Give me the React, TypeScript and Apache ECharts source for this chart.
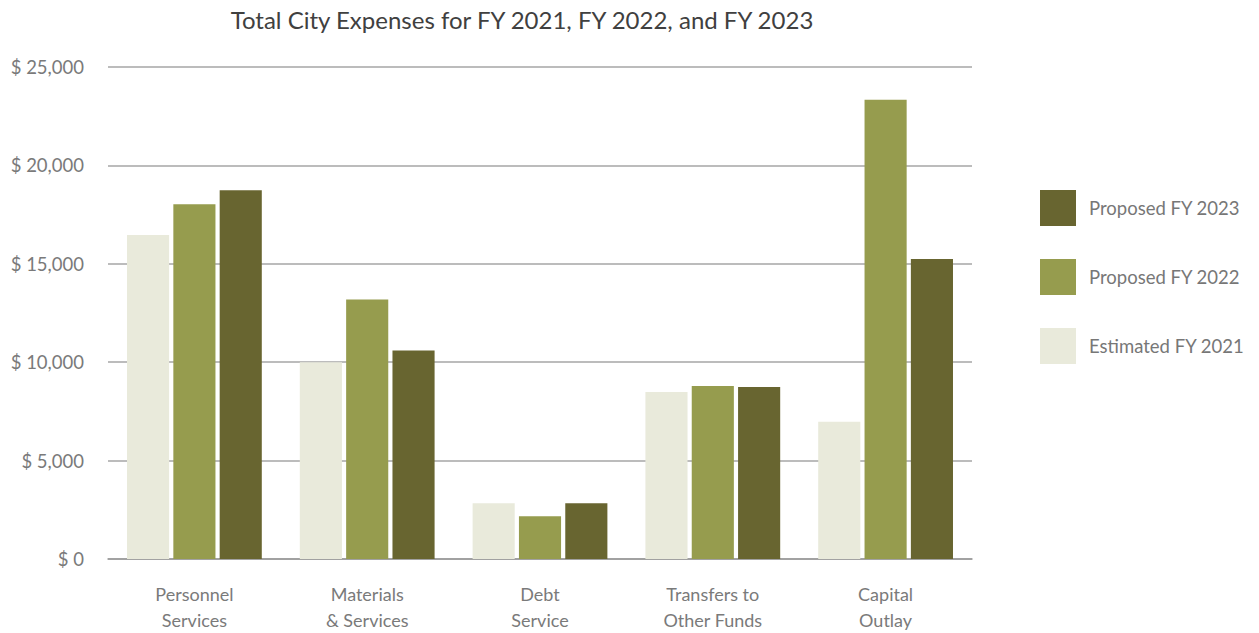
import React, { useEffect, useRef } from "react";
import * as echarts from "echarts";

const categories = ["Personnel\nServices", "Materials\n& Services", "Debt\nService", "Transfers to\nOther Funds", "Capital\nOutlay"];
const estimated2021 = [16460, 10000, 2830, 8480, 6970];
const proposed2022 = [18030, 13180, 2170, 8790, 23330];
const proposed2023 = [18740, 10600, 2830, 8740, 15250];
const yTicks = [0, 5000, 10000, 15000, 20000, 25000];

const FONT = "Lato";

export default function App() {
  const ref = useRef<HTMLDivElement>(null);
  useEffect(() => {
    if (!ref.current) return;
    const chart = echarts.init(ref.current, undefined, { renderer: "svg" });
    chart.setOption({
      animation: false,
      textStyle: { fontFamily: FONT },
      title: {
        text: "Total City Expenses for FY 2021, FY 2022, and FY 2023",
        left: 517,
        textAlign: "center",
        top: 2,
        textStyle: { fontFamily: FONT, fontSize: 24, fontWeight: "normal", color: "#404040" },
      },
      legend: {
        orient: "vertical",
        left: 1040,
        top: 190,
        padding: 0,
        itemWidth: 36,
        itemHeight: 36,
        itemGap: 33,
        icon: "rect",
        data: ["Proposed FY 2023", "Proposed FY 2022", "Estimated FY 2021"],
        textStyle: { fontFamily: FONT, fontSize: 18.5, color: "#777777", padding: [0, 0, 0, 8] },
      },
      grid: { left: 108, right: 287, top: 67, bottom: 71 },
      xAxis: {
        type: "category",
        data: categories,
        axisTick: { show: false },
        axisLine: { lineStyle: { color: "#999999", width: 1.5 } },
        axisLabel: { fontFamily: FONT, fontSize: 18, color: "#7a7a7a", margin: 22, lineHeight: 26 },
      },
      yAxis: {
        type: "value",
        min: yTicks[0],
        max: yTicks[yTicks.length - 1],
        interval: 5000,
        axisLine: { show: false },
        axisTick: { show: false },
        splitLine: { lineStyle: { color: "#a6a6a6", width: 1.5 } },
        axisLabel: {
          fontFamily: FONT,
          fontSize: 18.5,
          color: "#7a7a7a",
          margin: 24,
          formatter: (v: number) => "$ " + v.toLocaleString("en-US"),
        },
      },
      series: [
        { name: "Estimated FY 2021", type: "bar", data: estimated2021, itemStyle: { color: "#E9EADB" }, barGap: "10%", barCategoryGap: "22%" },
        { name: "Proposed FY 2022", type: "bar", data: proposed2022, itemStyle: { color: "#969C4E" }, barGap: "10%", barCategoryGap: "22%" },
        { name: "Proposed FY 2023", type: "bar", data: proposed2023, itemStyle: { color: "#686530" }, barGap: "10%", barCategoryGap: "22%" },
      ],
    });
    return () => chart.dispose();
  }, []);
  return <div ref={ref} style={{ width: 1259, height: 633, position: "absolute", left: 0, top: 0 }} />;
}
